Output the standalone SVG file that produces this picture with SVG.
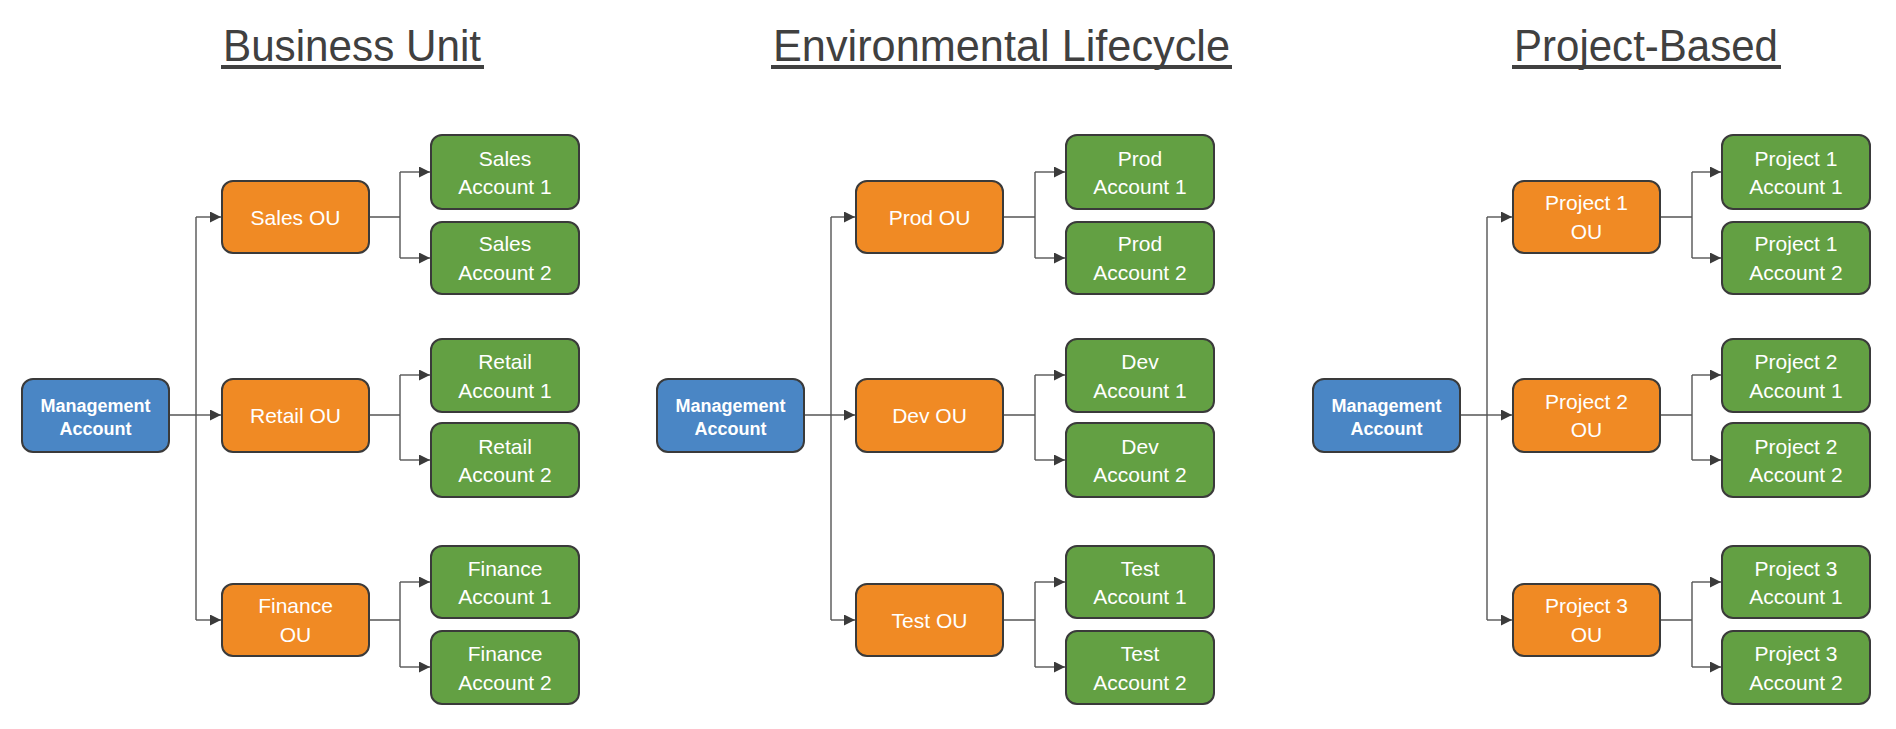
<svg xmlns="http://www.w3.org/2000/svg" width="1896" height="729" viewBox="0 0 1896 729">
<defs>
<marker id="arr" markerUnits="userSpaceOnUse" markerWidth="12" markerHeight="12" refX="11" refY="5.5" orient="auto">
<path d="M0,0 L11,5.5 L0,11 Z" fill="#3b3b3b"/>
</marker>
<style>
.title{font-family:"Liberation Sans",Arial,sans-serif;font-size:44px;fill:#404040;text-anchor:middle}
.ul{fill:#404040}
.box{stroke:#3a3a3a;stroke-width:2}
.mg{fill:#4a86c5}
.ou{fill:#f08a24}
.ac{fill:#63a043}
.t{font-family:"Liberation Sans",Arial,sans-serif;font-size:21px;fill:#ffffff;text-anchor:middle}
.tb{font-family:"Liberation Sans",Arial,sans-serif;font-size:18px;font-weight:bold;fill:#ffffff;text-anchor:middle}
.c{fill:none;stroke:#555555;stroke-width:1.4}
.ca{fill:none;stroke:#555555;stroke-width:1.4;marker-end:url(#arr)}
</style>
</defs>
<rect width="1896" height="729" fill="#ffffff"/>

<g id="titles">
<text class="title" x="352" y="61" textLength="258" lengthAdjust="spacingAndGlyphs">Business Unit</text>
<rect class="ul" x="221" y="65" width="263" height="4"/>
<text class="title" x="1001.5" y="61" textLength="457" lengthAdjust="spacingAndGlyphs">Environmental Lifecycle</text>
<rect class="ul" x="771" y="65" width="461" height="4"/>
<text class="title" x="1646" y="61" textLength="264" lengthAdjust="spacingAndGlyphs">Project-Based</text>
<rect class="ul" x="1512" y="65" width="269" height="4"/>
</g>

<g id="connectors">
<!-- Business Unit -->
<path class="c" d="M169,415 H196 M196,217 V620"/>
<path class="ca" d="M196,217 H221"/>
<path class="ca" d="M196,415 H221"/>
<path class="ca" d="M196,620 H221"/>
<path class="c" d="M369,217 H400 M400,172 V258 M369,415 H400 M400,375 V460 M369,620 H400 M400,582 V667"/>
<path class="ca" d="M400,172 H430"/>
<path class="ca" d="M400,258 H430"/>
<path class="ca" d="M400,375 H430"/>
<path class="ca" d="M400,460 H430"/>
<path class="ca" d="M400,582 H430"/>
<path class="ca" d="M400,667 H430"/>
<!-- Environmental Lifecycle -->
<path class="c" d="M804,415 H831 M831,217 V620"/>
<path class="ca" d="M831,217 H855"/>
<path class="ca" d="M831,415 H855"/>
<path class="ca" d="M831,620 H855"/>
<path class="c" d="M1003,217 H1035 M1035,172 V258 M1003,415 H1035 M1035,375 V460 M1003,620 H1035 M1035,582 V667"/>
<path class="ca" d="M1035,172 H1065"/>
<path class="ca" d="M1035,258 H1065"/>
<path class="ca" d="M1035,375 H1065"/>
<path class="ca" d="M1035,460 H1065"/>
<path class="ca" d="M1035,582 H1065"/>
<path class="ca" d="M1035,667 H1065"/>
<!-- Project-Based -->
<path class="c" d="M1460,415 H1487 M1487,217 V620"/>
<path class="ca" d="M1487,217 H1512"/>
<path class="ca" d="M1487,415 H1512"/>
<path class="ca" d="M1487,620 H1512"/>
<path class="c" d="M1660,217 H1692 M1692,172 V258 M1660,415 H1692 M1692,375 V460 M1660,620 H1692 M1692,582 V667"/>
<path class="ca" d="M1692,172 H1721"/>
<path class="ca" d="M1692,258 H1721"/>
<path class="ca" d="M1692,375 H1721"/>
<path class="ca" d="M1692,460 H1721"/>
<path class="ca" d="M1692,582 H1721"/>
<path class="ca" d="M1692,667 H1721"/>
</g>

<!-- Business Unit nodes -->
<g id="bu-mgmt"><rect class="box mg" x="22" y="379" width="147" height="73" rx="11"/><text class="tb" x="95.5" y="411.5">Management</text><text class="tb" x="95.5" y="435">Account</text></g>
<g id="bu-sales-ou"><rect class="box ou" x="222" y="181" width="147" height="72" rx="11"/><text class="t" x="295.5" y="224.5">Sales OU</text></g>
<g id="bu-retail-ou"><rect class="box ou" x="222" y="379" width="147" height="73" rx="11"/><text class="t" x="295.5" y="423">Retail OU</text></g>
<g id="bu-finance-ou"><rect class="box ou" x="222" y="584" width="147" height="72" rx="11"/><text class="t" x="295.5" y="613">Finance</text><text class="t" x="295.5" y="641.5">OU</text></g>
<g id="bu-sales-1"><rect class="box ac" x="431" y="135" width="148" height="74" rx="11"/><text class="t" x="505" y="165.5">Sales</text><text class="t" x="505" y="194">Account 1</text></g>
<g id="bu-sales-2"><rect class="box ac" x="431" y="222" width="148" height="72" rx="11"/><text class="t" x="505" y="251">Sales</text><text class="t" x="505" y="279.5">Account 2</text></g>
<g id="bu-retail-1"><rect class="box ac" x="431" y="339" width="148" height="73" rx="11"/><text class="t" x="505" y="369">Retail</text><text class="t" x="505" y="397.5">Account 1</text></g>
<g id="bu-retail-2"><rect class="box ac" x="431" y="423" width="148" height="74" rx="11"/><text class="t" x="505" y="453.5">Retail</text><text class="t" x="505" y="482">Account 2</text></g>
<g id="bu-finance-1"><rect class="box ac" x="431" y="546" width="148" height="72" rx="11"/><text class="t" x="505" y="575.5">Finance</text><text class="t" x="505" y="604">Account 1</text></g>
<g id="bu-finance-2"><rect class="box ac" x="431" y="631" width="148" height="73" rx="11"/><text class="t" x="505" y="661">Finance</text><text class="t" x="505" y="689.5">Account 2</text></g>

<!-- Environmental Lifecycle nodes -->
<g id="el-mgmt"><rect class="box mg" x="657" y="379" width="147" height="73" rx="11"/><text class="tb" x="730.5" y="411.5">Management</text><text class="tb" x="730.5" y="435">Account</text></g>
<g id="el-prod-ou"><rect class="box ou" x="856" y="181" width="147" height="72" rx="11"/><text class="t" x="929.5" y="224.5">Prod OU</text></g>
<g id="el-dev-ou"><rect class="box ou" x="856" y="379" width="147" height="73" rx="11"/><text class="t" x="929.5" y="423">Dev OU</text></g>
<g id="el-test-ou"><rect class="box ou" x="856" y="584" width="147" height="72" rx="11"/><text class="t" x="929.5" y="627.5">Test OU</text></g>
<g id="el-prod-1"><rect class="box ac" x="1066" y="135" width="148" height="74" rx="11"/><text class="t" x="1140" y="165.5">Prod</text><text class="t" x="1140" y="194">Account 1</text></g>
<g id="el-prod-2"><rect class="box ac" x="1066" y="222" width="148" height="72" rx="11"/><text class="t" x="1140" y="251">Prod</text><text class="t" x="1140" y="279.5">Account 2</text></g>
<g id="el-dev-1"><rect class="box ac" x="1066" y="339" width="148" height="73" rx="11"/><text class="t" x="1140" y="369">Dev</text><text class="t" x="1140" y="397.5">Account 1</text></g>
<g id="el-dev-2"><rect class="box ac" x="1066" y="423" width="148" height="74" rx="11"/><text class="t" x="1140" y="453.5">Dev</text><text class="t" x="1140" y="482">Account 2</text></g>
<g id="el-test-1"><rect class="box ac" x="1066" y="546" width="148" height="72" rx="11"/><text class="t" x="1140" y="575.5">Test</text><text class="t" x="1140" y="604">Account 1</text></g>
<g id="el-test-2"><rect class="box ac" x="1066" y="631" width="148" height="73" rx="11"/><text class="t" x="1140" y="661">Test</text><text class="t" x="1140" y="689.5">Account 2</text></g>

<!-- Project-Based nodes -->
<g id="pb-mgmt"><rect class="box mg" x="1313" y="379" width="147" height="73" rx="11"/><text class="tb" x="1386.5" y="411.5">Management</text><text class="tb" x="1386.5" y="435">Account</text></g>
<g id="pb-p1-ou"><rect class="box ou" x="1513" y="181" width="147" height="72" rx="11"/><text class="t" x="1586.5" y="210">Project 1</text><text class="t" x="1586.5" y="238.5">OU</text></g>
<g id="pb-p2-ou"><rect class="box ou" x="1513" y="379" width="147" height="73" rx="11"/><text class="t" x="1586.5" y="408.5">Project 2</text><text class="t" x="1586.5" y="437">OU</text></g>
<g id="pb-p3-ou"><rect class="box ou" x="1513" y="584" width="147" height="72" rx="11"/><text class="t" x="1586.5" y="613">Project 3</text><text class="t" x="1586.5" y="641.5">OU</text></g>
<g id="pb-p1-1"><rect class="box ac" x="1722" y="135" width="148" height="74" rx="11"/><text class="t" x="1796" y="165.5">Project 1</text><text class="t" x="1796" y="194">Account 1</text></g>
<g id="pb-p1-2"><rect class="box ac" x="1722" y="222" width="148" height="72" rx="11"/><text class="t" x="1796" y="251">Project 1</text><text class="t" x="1796" y="279.5">Account 2</text></g>
<g id="pb-p2-1"><rect class="box ac" x="1722" y="339" width="148" height="73" rx="11"/><text class="t" x="1796" y="369">Project 2</text><text class="t" x="1796" y="397.5">Account 1</text></g>
<g id="pb-p2-2"><rect class="box ac" x="1722" y="423" width="148" height="74" rx="11"/><text class="t" x="1796" y="453.5">Project 2</text><text class="t" x="1796" y="482">Account 2</text></g>
<g id="pb-p3-1"><rect class="box ac" x="1722" y="546" width="148" height="72" rx="11"/><text class="t" x="1796" y="575.5">Project 3</text><text class="t" x="1796" y="604">Account 1</text></g>
<g id="pb-p3-2"><rect class="box ac" x="1722" y="631" width="148" height="73" rx="11"/><text class="t" x="1796" y="661">Project 3</text><text class="t" x="1796" y="689.5">Account 2</text></g>
</svg>
